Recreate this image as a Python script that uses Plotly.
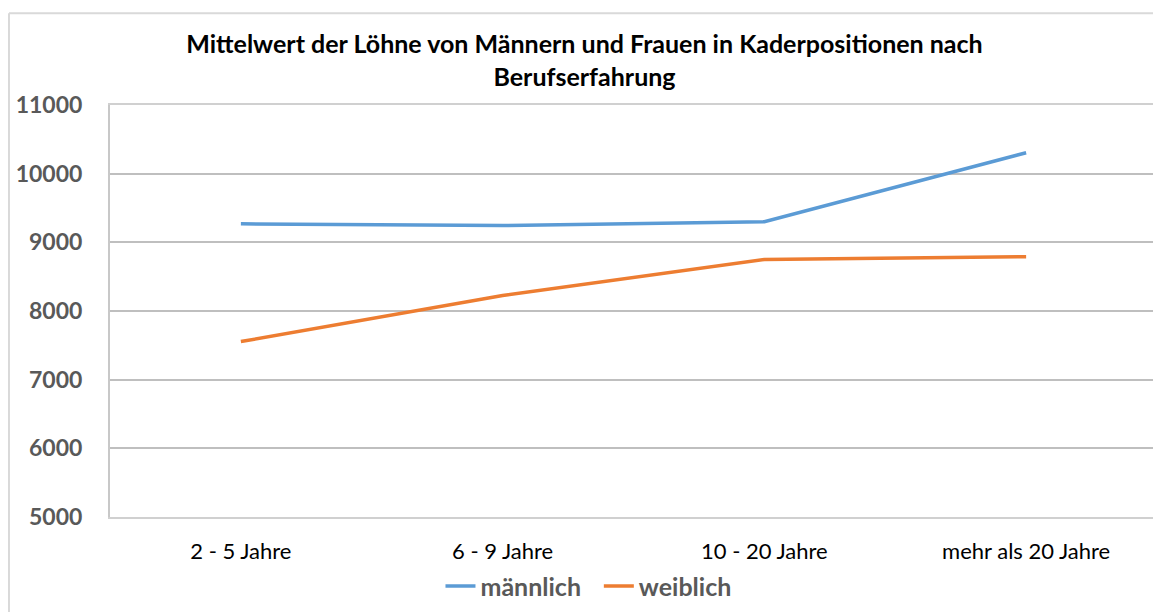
import plotly.graph_objects as go

# --- DATA ---
kategorien = ['2 - 5 Jahre', '6 - 9 Jahre', '10 - 20 Jahre', 'mehr als 20 Jahre']
maennlich = [9270, 9245, 9300, 10305]
weiblich = [7555, 8225, 8750, 8790]
serien = ['männlich', 'weiblich']

color_blue = "#5B9BD5"
color_orange = "#ED7D31"
grid_gray = "#BFBFBF"
font_main = "Lato, 'Open Sans', sans-serif"

fig = go.Figure()
fig.add_trace(go.Scatter(x=kategorien, y=maennlich, mode='lines', name='<b>' + serien[0] + '</b>&nbsp;&nbsp;',
                         line=dict(color=color_blue, width=3.5)))
fig.add_trace(go.Scatter(x=kategorien, y=weiblich, mode='lines', name='<b>' + serien[1] + '</b>',
                         line=dict(color=color_orange, width=3.5)))

# page body has an 8px margin, so the figure is sized/offset to compensate
fig.update_layout(
    width=1153, height=604,
    margin=dict(l=102, r=4, t=97, b=94),
    plot_bgcolor='white', paper_bgcolor='white',
    font=dict(family=font_main),
    title=dict(text='<b>Mittelwert der Löhne von Männern und Frauen in Kaderpositionen nach<br>Berufserfahrung</b>',
               x=0.5, xanchor='center', y=0.925, yanchor='middle',
               font=dict(size=25, color='black', family=font_main)),
    showlegend=True,
    legend=dict(orientation='h', x=0.457, xanchor='center', y=-0.165, yanchor='middle',
                font=dict(size=25, color='#595959', family=font_main), itemwidth=30,
                traceorder='normal'),
    hovermode=False,
)

fig.update_xaxes(type='category', range=[-0.5, 3.5], showgrid=False, automargin=False,
                 showline=True, linecolor='#D0D0D0', linewidth=2, mirror=True,
                 ticks='outside', ticklen=14, tickcolor='white',
                 tickfont=dict(size=22, color='black', family=font_main))
fig.update_yaxes(range=[5000, 11000], dtick=1000, showgrid=True, gridcolor=grid_gray, gridwidth=2,
                 showline=True, linecolor='#C8C8C8', linewidth=2, mirror=True, automargin=False,
                 zeroline=False, ticks='outside', ticklen=21, tickcolor='white',
                 tickfont=dict(size=23, color='#595959', family=font_main),
                 tickformat='d', tickprefix='<b>', ticksuffix='</b>')

# outer chart frame
fig.add_shape(type='line', xref='paper', yref='paper', x0=-0.0965, x1=-0.0965, y0=-0.3, y1=1.2228,
              line=dict(color='#D9D9D9', width=2))
fig.add_shape(type='line', xref='paper', yref='paper', x0=-0.0965, x1=1.1, y0=1.2228, y1=1.2228,
              line=dict(color='#D9D9D9', width=2))

fig.write_html("out.html")
